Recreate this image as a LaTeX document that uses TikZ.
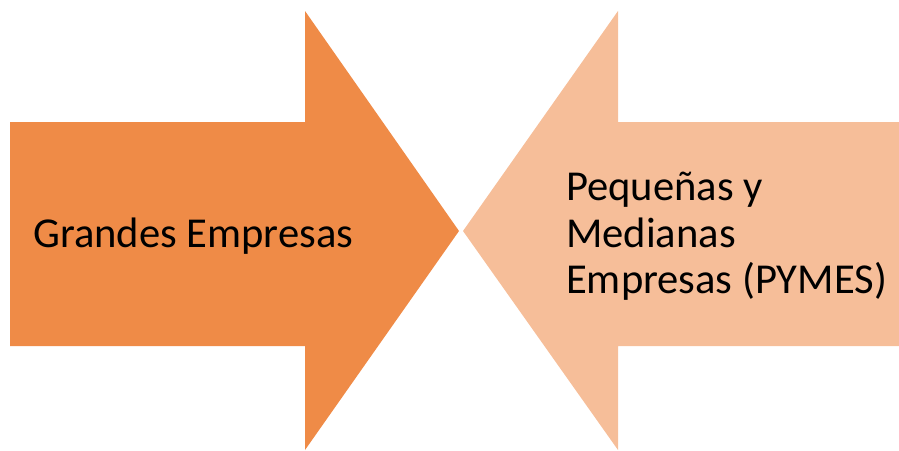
\documentclass[tikz,border=0pt]{standalone}
\usepackage{fontspec}
\setmainfont{Carlito}
\definecolor{darkor}{HTML}{EF8B47}
\definecolor{lightor}{HTML}{F6BE99}
\begin{document}
\begin{tikzpicture}[x=1pt,y=-1pt,
  lbl/.style={anchor=base west,inner sep=0pt,font=\fontsize{42.6}{46.5}\selectfont,text=black,align=left}]
\useasboundingbox (0,0) rectangle (899,450);
\fill[darkor] (10,122) -- (305,122) -- (305,11) -- (459,231) -- (305,450) -- (305,346) -- (10,346) -- cycle;
\fill[lightor] (899,122) -- (618,122) -- (618,11) -- (463,231) -- (618,450) -- (618,346) -- (899,346) -- cycle;
\node[lbl] (big) at (33,247) {Grandes Empresas};
\node[lbl] (pl1) at (566,200) {Pequeñas y};
\node[lbl] (pl2) at (566,247) {Medianas};
\node[lbl] (pl3) at (566,293) {Empresas (PYMES)};
\end{tikzpicture}
\end{document}
